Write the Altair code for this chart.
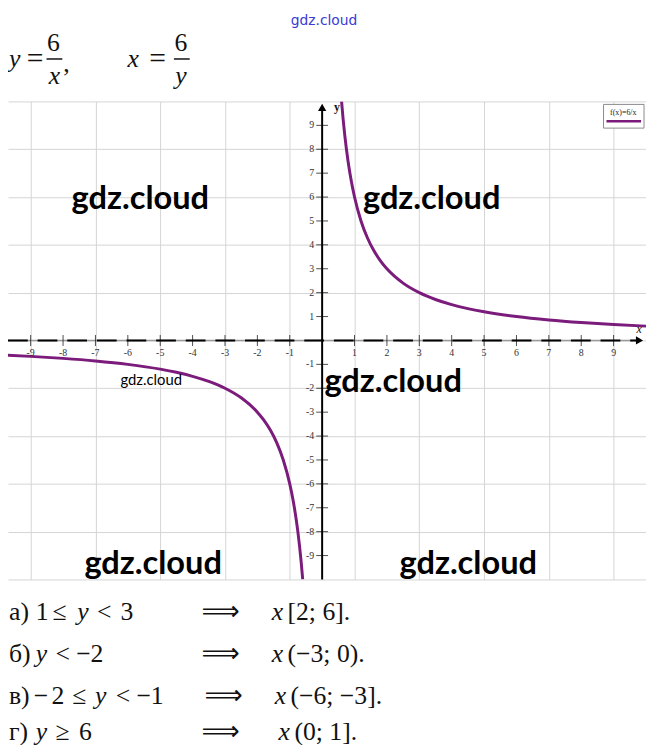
import altair as alt
import pandas as pd

# ---------------- data ----------------
right_x = [0.6, 0.65, 0.7, 0.75, 0.8, 0.9, 1.0, 1.2, 1.4, 1.6, 1.8, 2.0, 2.5, 3.0, 3.5, 4.0, 4.5, 5.0, 6.0, 7.0, 8.0, 9.0, 10.0]
right_y = [10.0, 9.231, 8.571, 8.0, 7.5, 6.667, 6.0, 5.0, 4.286, 3.75, 3.333, 3.0, 2.4, 2.0, 1.714, 1.5, 1.333, 1.2, 1.0, 0.857, 0.75, 0.667, 0.6]
left_x = [-10.0, -9.0, -8.0, -7.0, -6.0, -5.0, -4.5, -4.0, -3.5, -3.0, -2.5, -2.0, -1.8, -1.6, -1.4, -1.2, -1.0, -0.9, -0.8, -0.75, -0.7, -0.65, -0.6]
left_y = [-0.6, -0.667, -0.75, -0.857, -1.0, -1.2, -1.333, -1.5, -1.714, -2.0, -2.4, -3.0, -3.333, -3.75, -4.286, -5.0, -6.0, -6.667, -7.5, -8.0, -8.571, -9.231, -10.0]
tick_vals = [-9, -8, -7, -6, -5, -4, -3, -2, -1, 1, 2, 3, 4, 5, 6, 7, 8, 9]
grid_vals = list(range(-10, 11))
legend_label = "f(x)=6/x"
watermark = "gdz.cloud"

# ---------------- layout ----------------
OX, OY = 8, 98
W, H = 646, 484
PURPLE = "#7b1b7b"
SERIF = "Liberation Serif"

xs = alt.Scale(domain=[-9.7, 10], nice=False, zero=False)
ys = alt.Scale(domain=[-10, 10], nice=False, zero=False)


def gx():
    return alt.Axis(values=grid_vals, grid=True, labels=False, ticks=False, domain=False,
                    title=None, gridColor="#d4d4d4", gridWidth=1)


grid = alt.Chart(pd.DataFrame({"x": [0], "y": [0]})).mark_point(opacity=0).encode(
    x=alt.X("x:Q", scale=xs, axis=gx()),
    y=alt.Y("y:Q", scale=ys, axis=gx()),
)

curve_df = pd.DataFrame({
    "x": right_x + left_x,
    "y": right_y + left_y,
    "branch": ["r"] * len(right_x) + ["l"] * len(left_x),
    "order": list(range(len(right_x))) + list(range(len(left_x))),
})
curve = alt.Chart(curve_df).mark_line(color=PURPLE, strokeWidth=3, clip=True,
                                      interpolate="monotone").encode(
    x=alt.X("x:Q", scale=xs), y=alt.Y("y:Q", scale=ys),
    detail="branch:N", order="order:Q")

# axes lines
xaxis_gray = alt.Chart(pd.DataFrame({"x": [-9.7], "x2": [9.8], "y": [0]})).mark_rule(
    color="#9a9a9a", strokeWidth=1.5).encode(
    x=alt.X("x:Q", scale=xs), x2="x2:Q", y=alt.Y("y:Q", scale=ys))
xaxis_black = alt.Chart(pd.DataFrame({"x": [-9.7], "x2": [9.8], "y": [0]})).mark_rule(
    color="black", strokeWidth=2, strokeDash=[20, 10]).encode(
    x=alt.X("x:Q", scale=xs), x2="x2:Q", y=alt.Y("y:Q", scale=ys))
yaxis = alt.Chart(pd.DataFrame({"x": [0], "y": [-10], "y2": [9.7]})).mark_rule(
    color="black", strokeWidth=2).encode(
    x=alt.X("x:Q", scale=xs), y=alt.Y("y:Q", scale=ys), y2="y2:Q")

arrow_x = alt.Chart(pd.DataFrame({"x": [9.8], "y": [0]})).mark_point(
    shape="triangle-right", filled=True, color="black", size=70, opacity=1).encode(
    x=alt.X("x:Q", scale=xs), y=alt.Y("y:Q", scale=ys))
arrow_y = alt.Chart(pd.DataFrame({"x": [0], "y": [9.75]})).mark_point(
    shape="triangle-up", filled=True, color="black", size=70, opacity=1).encode(
    x=alt.X("x:Q", scale=xs), y=alt.Y("y:Q", scale=ys))

tdf = pd.DataFrame({"v": tick_vals, "z": [0] * len(tick_vals), "lab": [str(v) for v in tick_vals]})
xticks = alt.Chart(tdf).mark_tick(orient="vertical", size=11, thickness=1, color="black").encode(
    x=alt.X("v:Q", scale=xs), y=alt.Y("z:Q", scale=ys))
yticks = alt.Chart(tdf).mark_tick(orient="horizontal", size=12, thickness=1, color="black").encode(
    x=alt.X("z:Q", scale=xs), y=alt.Y("v:Q", scale=ys))
xlabels = alt.Chart(tdf).mark_text(font=SERIF, fontSize=10, color="#333", dy=13, baseline="middle").encode(
    x=alt.X("v:Q", scale=xs), y=alt.Y("z:Q", scale=ys), text="lab:N")
ylabels = alt.Chart(tdf).mark_text(font=SERIF, fontSize=10, color="#333", dx=-8, align="right",
                                   baseline="middle").encode(
    x=alt.X("z:Q", scale=xs), y=alt.Y("v:Q", scale=ys), text="lab:N")


def txt(px, py, s, size=26, font=SERIF, style="normal", weight="normal", color="#111",
        align="left", **kw):
    return alt.Chart(pd.DataFrame({"t": [s]})).mark_text(
        align=align, baseline="middle", fontSize=size, font=font, fontStyle=style,
        fontWeight=weight, color=color, **kw).encode(
        x=alt.value(px - OX), y=alt.value(py - OY), text="t:N")


def hline(px1, px2, py, color="#111", w=1.5):
    return alt.Chart(pd.DataFrame({"a": [0]})).mark_rule(color=color, strokeWidth=w).encode(
        x=alt.value(px1 - OX), x2=alt.value(px2 - OX), y=alt.value(py - OY))


layers = [grid, curve, xaxis_gray, xaxis_black, yaxis, arrow_x, arrow_y,
          xticks, yticks, xlabels, ylabels]

# axis names
layers.append(txt(647, 328, "x", size=12, style="italic", align="center"))
layers.append(txt(341, 104, "y", size=12, weight="bold", align="center"))

# legend box
layers.append(alt.Chart(pd.DataFrame({"a": [0]})).mark_rect(
    fill="white", stroke="#8a8a8a", strokeWidth=1).encode(
    x=alt.value(611 - OX), x2=alt.value(652 - OX), y=alt.value(101 - OY), y2=alt.value(125 - OY)))
layers.append(txt(631, 110, legend_label, size=8, align="center", color="#222"))
layers.append(hline(614, 649, 118, color=PURPLE, w=2.5))

# watermarks
for (px, py) in [(142, 197), (437, 197), (398, 382), (155, 566), (474, 566)]:
    layers.append(txt(px, py, watermark, size=33, font="Lato", weight="bold", align="center",
                      color="black"))
layers.append(txt(153, 380, watermark, size=15, font="Lato", align="center", color="black"))
layers.append(txt(328, 17, watermark, size=14, font="DejaVu Sans", align="center", color="#3a3ad4"))

# top formulas
layers += [
    txt(9, 55, "y", style="italic"),
    txt(27, 55, "=", size=30),
    txt(54, 39, "6", align="center"),
    hline(47, 63, 55),
    txt(55, 72, "x", style="italic", align="center"),
    txt(64, 60, ","),
    txt(129, 55, "x", style="italic"),
    txt(151, 55, "=", size=30),
    txt(183, 39, "6", align="center"),
    hline(176, 192, 55),
    txt(183, 72, "y", style="italic", align="center"),
]

# bottom answers
rows = [
    (615, [(9, "а)", "normal"), (36, "1", "normal"), (53, "≤", "normal"), (78, "y", "italic"),
           (98, "<", "normal"), (122, "3", "normal")],
     (275, "x", "[2; 6]."), 204),
    (658, [(9, "б)", "normal"), (36, "y", "italic"), (56, "<", "normal"), (77, "−2", "normal")],
     (275, "x", "(−3; 0)."), 204),
    (700, [(9, "в)", "normal"), (34, "−", "normal"), (52, "2", "normal"), (73, "≤", "normal"),
           (96, "y", "italic"), (117, "<", "normal"), (138, "−1", "normal")],
     (278, "x", "(−6; −3]."), 207),
    (737, [(9, "г)", "normal"), (36, "y", "italic"), (56, "≥", "normal"), (80, "6", "normal")],
     (282, "x", "(0; 1]."), 204),
]
for py, left, (rx, xv, rest), ax in rows:
    for px, s, st in left:
        layers.append(txt(px, py, s, style=st))
    layers.append(txt(ax, py, "⟹", size=27, font="DejaVu Sans"))
    layers.append(txt(rx, py, xv, style="italic"))
    layers.append(txt(rx + 16, py, rest))

chart = alt.layer(*layers).properties(
    width=W, height=H,
    autosize=alt.AutoSizeParams(type="none"),
    padding={"left": 0, "top": OY - 8, "right": 0, "bottom": 745 - (OY + H)},
).configure_view(stroke=None)

chart.save("out.html", embed_options={"renderer": "svg", "actions": False})
